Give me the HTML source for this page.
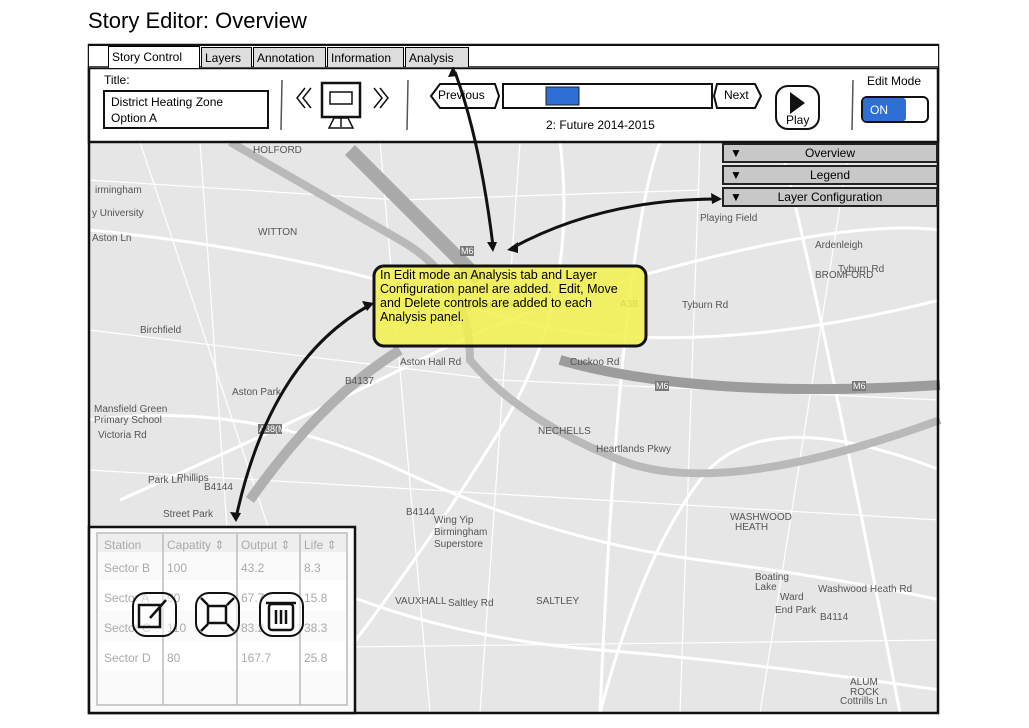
<!DOCTYPE html>
<html><head><meta charset="utf-8"><style>
body{margin:0;width:1029px;height:728px;background:#fff;position:relative;overflow:hidden;font-family:"Liberation Sans",sans-serif;}
.a{position:absolute;}
.tab{position:absolute;top:47px;height:20px;border:1.5px solid #000;border-bottom:none;background:#ddd;font-size:12px;line-height:20px;padding:0 3px;box-sizing:border-box;}
.pb{position:absolute;left:722px;width:216px;height:20px;background:#c8c8c8;border:2px solid #222;box-sizing:border-box;font-size:12px;line-height:16px;text-align:center;}
.pb:before{content:"▼";position:absolute;left:6px;font-size:12px;}
</style></head><body>
<div class="a" style="left:88px;top:8px;font-size:22px;">Story Editor: Overview</div>
<svg class="a" style="left:0;top:0" width="1029" height="728">
<rect x="89" y="142" width="849" height="571" fill="#e6e6e6"/>
<g fill="none" stroke="#fff" stroke-width="3">
<path d="M89 230 Q300 250 480 310 T940 300"/><path d="M120 500 Q300 420 420 360 T700 260 940 230"/>
<path d="M300 713 Q420 560 500 430 T560 142"/><path d="M600 713 Q640 560 700 480 T940 470"/>
<path d="M89 420 Q250 400 400 470 T700 560 940 600"/><path d="M780 142 Q820 300 900 713"/>
<path d="M89 600 Q250 560 360 600 T600 650 940 690"/><path d="M660 142 Q620 250 600 713"/>
</g>
<g fill="none" stroke="#fff" stroke-width="1.2">
<path d="M89 180 L400 200 L700 190"/><path d="M200 142 L240 713"/><path d="M89 330 L500 380 L940 400"/><path d="M380 142 L430 713"/><path d="M89 470 L940 520"/><path d="M520 142 L480 713"/><path d="M850 142 L760 713"/><path d="M89 650 L940 640"/><path d="M140 142 L330 713"/><path d="M700 142 L680 713"/>
</g>
<path d="M230 142 Q330 200 400 240 T470 360 Q520 420 620 460 T940 420" fill="none" stroke="#b9b9b9" stroke-width="8"/>
<path d="M350 150 Q420 220 480 280" fill="none" stroke="#a9a9a9" stroke-width="14"/>
<path d="M560 360 Q700 400 940 385" fill="none" stroke="#9c9c9c" stroke-width="10"/>
<path d="M250 500 Q320 400 400 350" fill="none" stroke="#b0b0b0" stroke-width="10"/>
<g font-size="10" fill="#555">
<text x="253" y="153">HOLFORD</text><text x="95" y="193">irmingham</text><text x="92" y="216">y University</text><text x="258" y="235">WITTON</text><text x="92" y="241">Aston Ln</text><text x="140" y="333">Birchfield</text><text x="232" y="395">Aston Park</text><text x="94" y="412">Mansfield Green</text><text x="94" y="423">Primary School</text><text x="98" y="438">Victoria Rd</text><text x="177" y="481">Phillips</text><text x="163" y="517">Street Park</text><text x="148" y="483">Park Ln</text><text x="434" y="523">Wing Yip</text><text x="434" y="535">Birmingham</text><text x="434" y="547">Superstore</text><text x="730" y="520">WASHWOOD</text><text x="735" y="530">HEATH</text><text x="755" y="580">Boating</text><text x="755" y="590">Lake</text><text x="780" y="600">Ward</text><text x="775" y="613">End Park</text><text x="818" y="592">Washwood Heath Rd</text><text x="538" y="434">NECHELLS</text><text x="596" y="452">Heartlands Pkwy</text><text x="815" y="248">Ardenleigh</text><text x="700" y="221">Playing Field</text><text x="815" y="278">BROMFORD</text><text x="850" y="685">ALUM</text><text x="850" y="695">ROCK</text><text x="840" y="704">Cottrills Ln</text><text x="536" y="604">SALTLEY</text><text x="448" y="606">Saltley Rd</text><text x="395" y="604">VAUXHALL</text><text x="620" y="307">A38</text><text x="682" y="308">Tyburn Rd</text><text x="838" y="272">Tyburn Rd</text><text x="460" y="308">Salford Park</text><text x="570" y="365">Cuckoo Rd</text><text x="400" y="365">Aston Hall Rd</text><text x="345" y="384">B4137</text><text x="204" y="490">B4144</text><text x="406" y="515">B4144</text><text x="820" y="620">B4114</text></g>
<g font-size="9" fill="#fff"><rect x="460" y="246" width="14" height="10" fill="#777"/><text x="461" y="254">M6</text><rect x="655" y="381" width="14" height="10" fill="#777"/><text x="656" y="389">M6</text><rect x="852" y="381" width="14" height="10" fill="#777"/><text x="853" y="389">M6</text><rect x="258" y="424" width="24" height="10" fill="#777"/><text x="259" y="432">A38(M)</text></g>
<rect x="89" y="45" width="849" height="668" fill="none" stroke="#111" stroke-width="2.5"/>
<rect x="89" y="68" width="849" height="74" fill="#fff" stroke="#111" stroke-width="2.5"/>
<rect x="89" y="46" width="849" height="22" fill="#fff"/>
<line x1="89" y1="67" x2="938" y2="67" stroke="#111" stroke-width="1.5"/>
<rect x="89" y="527" width="266" height="186" fill="#fafafa" stroke="#111" stroke-width="2.5"/>
<rect x="97" y="533" width="250" height="172" fill="none" stroke="#bbb" stroke-width="1.5"/>
<rect x="98" y="534" width="248" height="18" fill="#eee"/>
<rect x="98" y="580" width="248" height="30" fill="#fff"/><rect x="98" y="641" width="248" height="30" fill="#fff"/>
<g stroke="#bbb" stroke-width="1.5"><line x1="163" y1="534" x2="163" y2="705"/><line x1="237" y1="534" x2="237" y2="705"/><line x1="300" y1="534" x2="300" y2="705"/></g>
<g font-size="12" fill="#aaa"><text x="104" y="549">Station</text><text x="167" y="549">Capatity ⇕</text><text x="241" y="549">Output ⇕</text><text x="304" y="549">Life ⇕</text>
<text x="104" y="572">Sector B</text><text x="167" y="572">100</text><text x="241" y="572">43.2</text><text x="304" y="572">8.3</text>
<text x="104" y="602">Sector A</text><text x="167" y="602">90</text><text x="241" y="602">67.7</text><text x="304" y="602">15.8</text>
<text x="104" y="632">Sector C</text><text x="167" y="632">110</text><text x="241" y="632">83.2</text><text x="304" y="632">38.3</text>
<text x="104" y="662">Sector D</text><text x="167" y="662">80</text><text x="241" y="662">167.7</text><text x="304" y="662">25.8</text></g>
<g fill="#fff" fill-opacity="0.5" stroke="#111" stroke-width="2">
<rect x="133" y="593" width="43" height="43" rx="13"/><rect x="196" y="593" width="43" height="43" rx="13"/><rect x="260" y="593" width="43" height="43" rx="13"/></g>
<g fill="none" stroke="#111" stroke-width="2.5"><rect x="139" y="605" width="21" height="22"/><line x1="150" y1="618" x2="166" y2="600"/>
<rect x="208" y="606" width="18" height="17"/><path d="M201 598 l7 7 M234 598 l-7 7 M201 631 l7-7 M234 631 l-7-7"/>
<rect x="269" y="604" width="24" height="26" rx="3"/><path d="M266 603 h30 M276 610 v14 M281 610 v14 M286 610 v14"/></g>
<rect x="374" y="266" width="272" height="80" rx="10" fill="#f2f04a" fill-opacity="0.85" stroke="#111" stroke-width="3"/>
<g fill="none" stroke="#111" stroke-width="3">
<path d="M236 518 Q270 360 370 305"/><path d="M493 246 Q480 140 455 72"/><path d="M512 248 Q600 200 715 199"/></g>
<g fill="#111"><path d="M374 303 l-12-2 l5 10z"/><path d="M453 66 l-5 11 l10-1z"/><path d="M493 252 l-6-10 l10 0z"/><path d="M507 250 l11-8 l0 11z"/><path d="M722 199 l-11-6 l1 11z"/><path d="M236 522 l-6-10 l11 1z"/></g>
<rect x="104" y="91" width="164" height="37" fill="#fff" stroke="#111" stroke-width="2"/>
<g stroke="#555" stroke-width="1.5"><line x1="282" y1="80" x2="281" y2="130"/><line x1="408" y1="80" x2="407" y2="130"/><line x1="853" y1="80" x2="852" y2="130"/></g>
<g fill="none" stroke="#111" stroke-width="1.5"><path d="M305 88 l-8 10 l8 10 M311 88 l-8 10 l8 10 M374 88 l8 10 l-8 10 M380 88 l8 10 l-8 10"/>
<rect x="322" y="83" width="38" height="34" stroke-width="2.5"/><rect x="330" y="92" width="22" height="12"/><path d="M341 117 v10 M329 128 h24 l-5-10 h-14z"/>
<path d="M440 84 h55 l4 12 l-4 12 h-55 l-9-12z" stroke-width="2"/><rect x="503" y="84" width="209" height="24" stroke-width="2"/><path d="M717 84 h38 l6 12 l-6 12 h-38 l-3-12z" stroke-width="2"/>
<rect x="776" y="86" width="43" height="43" rx="12" stroke-width="2"/></g>
<rect x="546" y="87" width="33" height="18" fill="#2e6fd6" stroke="#222"/>
<path d="M790 92 l15 11 l-15 11z" fill="#111"/>
<rect x="862" y="97" width="66" height="25" rx="5" fill="#fff" stroke="#111" stroke-width="2"/><rect x="863" y="98" width="43" height="23" rx="3" fill="#2e6fd6"/>
</svg>
<div class="a" style="left:380px;top:268px;width:270px;font-size:12.5px;line-height:14px;white-space:nowrap;">In Edit mode an Analysis tab and Layer<br>Configuration panel are added.&nbsp; Edit, Move<br>and Delete controls are added to each<br>Analysis panel.</div>
<div class="tab" style="left:108px;top:46px;height:22px;background:#fff;width:92px;">Story Control</div>
<div class="tab" style="left:201px;width:51px;">Layers</div>
<div class="tab" style="left:253px;width:73px;">Annotation</div>
<div class="tab" style="left:327px;width:77px;">Information</div>
<div class="tab" style="left:405px;width:64px;">Analysis</div>
<div class="a" style="left:104px;top:73px;font-size:12px;">Title:</div>
<div class="a" style="left:111px;top:94px;font-size:12px;line-height:16px;">District Heating Zone<br>Option A</div>
<div class="a" style="left:438px;top:88px;font-size:12px;">Previous</div>
<div class="a" style="left:724px;top:88px;font-size:12px;">Next</div>
<div class="a" style="left:546px;top:118px;font-size:12px;">2: Future 2014-2015</div>
<div class="a" style="left:786px;top:113px;font-size:12px;">Play</div>
<div class="a" style="left:867px;top:74px;font-size:12px;">Edit Mode</div>
<div class="a" style="left:870px;top:103px;font-size:12px;color:#fff;">ON</div>
<div class="pb" style="top:143px;">Overview</div>
<div class="pb" style="top:165px;">Legend</div>
<div class="pb" style="top:187px;">Layer Configuration</div>
</body></html>
